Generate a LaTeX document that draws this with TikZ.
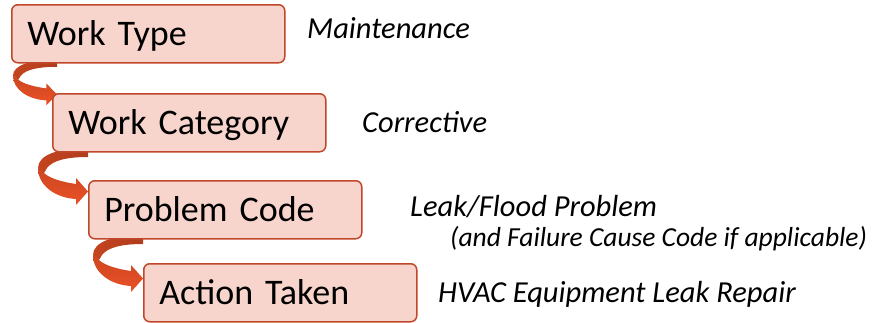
\documentclass[tikz,border=0pt]{standalone}
\usepackage{fontspec}
\setmainfont{Carlito}
\begin{document}
\begin{tikzpicture}[x=1pt,y=1pt,
  stepbox/.style={draw=boxline, fill=boxfill, line width=1.5pt, rounded corners=6pt,
    anchor=north west, minimum width=273pt, minimum height=58pt,
    text width=242pt, align=left, inner xsep=15pt, inner ysep=0pt,
    text height=23pt, text depth=0pt, font=\fontsize{36}{40}\selectfont},
  note/.style={anchor=base west, inner sep=0pt, font=\fontsize{30.5}{34}\selectfont\itshape},
  subnote/.style={note, font=\fontsize{27.5}{31}\selectfont\itshape},
  bendarrow/.pic={
    % back (inner) face of the ribbon
    \path[left color=arrleft, right color=arrback]
      (0,-17) .. controls (0,-4) and (20,3) .. (50,3) -- (50,-6)
      .. controls (30,-6) and (15,-9) .. (9,-17) -- (6,-22) -- cycle;
    % front face with the head
    \path[top color=arrmid, bottom color=arrfront]
      (0,-17) .. controls (0,-35) and (18,-47) .. (38,-48) -- (38,-54)
      -- (50,-40.5) -- (38,-27) -- (38,-33)
      .. controls (24,-31) and (10,-27) .. (5,-21) -- cycle;
  }]
\definecolor{boxfill}{HTML}{F8D5CC}
\definecolor{boxline}{HTML}{C0472A}
\definecolor{arrback}{HTML}{B03C1E}
\definecolor{arrleft}{HTML}{C4441F}
\definecolor{arrmid}{HTML}{CC4620}
\definecolor{arrfront}{HTML}{EA5127}
\useasboundingbox (0,0) rectangle (879,-322);

% connecting ribbons (drawn first so the boxes overlap them)
\pic[xscale=0.88, yscale=0.8] at (13,-62) {bendarrow};
\pic at (38,-151) {bendarrow};
\pic at (93,-238) {bendarrow};

% hierarchy boxes
\node[stepbox] (b1) at (11,-4)   {Work Type};
\node[stepbox] (b2) at (52,-93)  {Work Category};
\node[stepbox] (b3) at (88,-180) {Problem Code};
\node[stepbox] (b4) at (143,-263) {Action Taken};

% example values
\node[note] (n1) at (307,-38)  {Maintenance};
\node[note] (n2) at (362,-132) {Corrective};
\node[note] (n3) at (410,-216) {Leak/Flood Problem};
\node[subnote] (n4) at (450,-246) {(and Failure Cause Code if applicable)};
\node[note] (n5) at (438,-302) {HVAC Equipment Leak Repair};
\end{tikzpicture}
\end{document}
